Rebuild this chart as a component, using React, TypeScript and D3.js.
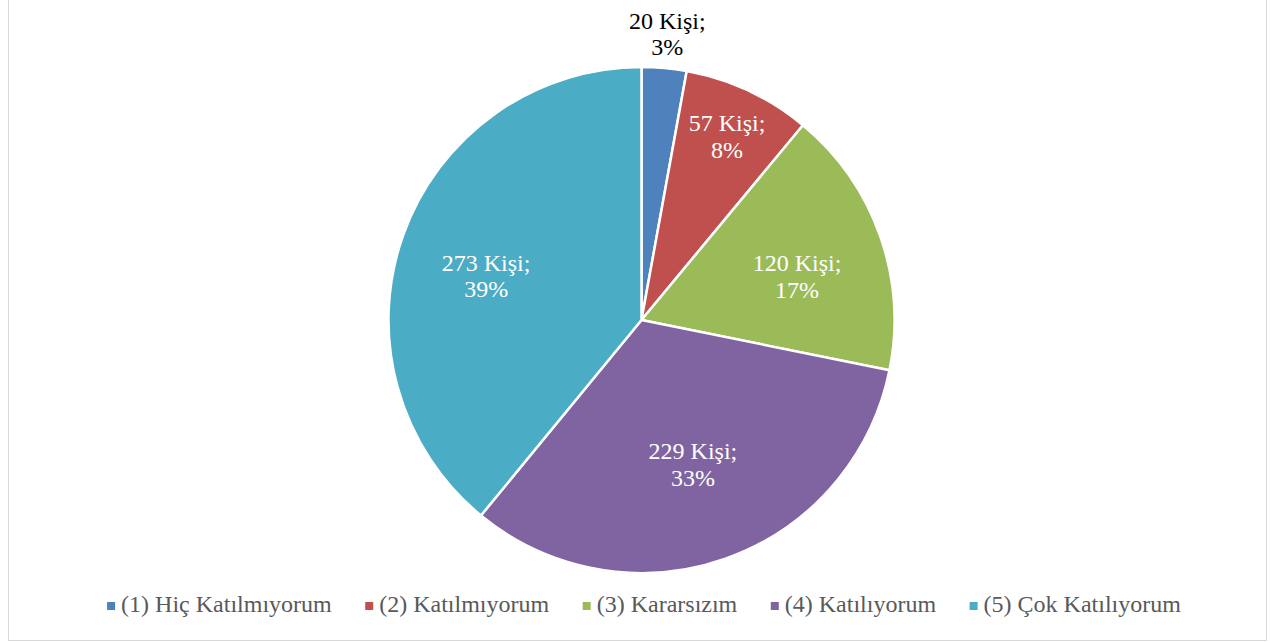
import * as d3 from "d3";
import { useEffect, useRef } from "react";

const categories = [
  "(1) Hiç Katılmıyorum",
  "(2) Katılmıyorum",
  "(3) Kararsızım",
  "(4) Katılıyorum",
  "(5) Çok Katılıyorum",
];
const counts = [20, 57, 120, 229, 273];
const colors = ["#4F81BD", "#C0504D", "#9BBB59", "#8064A2", "#4BACC6"];

const W = 1270;
const H = 642;

export default function App() {
  const ref = useRef<SVGSVGElement>(null);

  useEffect(() => {
    const svg = d3.select(ref.current);
    svg.selectAll("*").remove();

    const font = "'Liberation Serif', 'Times New Roman', serif";
    const fs = 24;
    const cx = 641.5;
    const cy = 320;
    const r = 253;

    svg
      .append("rect")
      .attr("x", 8.5)
      .attr("y", -10)
      .attr("width", 1258)
      .attr("height", 650.5)
      .attr("fill", "#fff")
      .attr("stroke", "#d9d9d9")
      .attr("stroke-width", 1);

    const data = categories.map((c, i) => ({ label: c, value: counts[i], color: colors[i] }));
    const total = d3.sum(counts);

    const pie = d3
      .pie<(typeof data)[number]>()
      .value((d) => d.value)
      .sort(null);
    const arcs = pie(data);

    const arc = d3.arc<d3.PieArcDatum<(typeof data)[number]>>().innerRadius(0).outerRadius(r);

    const g = svg.append("g").attr("transform", `translate(${cx},${cy})`);

    g.selectAll("path")
      .data(arcs)
      .join("path")
      .attr("d", arc)
      .attr("fill", (d) => d.data.color)
      .attr("stroke", "#fff")
      .attr("stroke-width", 2.5)
      .attr("stroke-linejoin", "round");

    // data labels (best-fit style: small slices pushed outward / outside)
    arcs.forEach((a) => {
      const pct = a.data.value / total;
      let mid = (a.startAngle + a.endAngle) / 2;
      // pull labels near the horizontal axis a little toward it
      const horiz = mid < Math.PI ? Math.PI / 2 : (3 * Math.PI) / 2;
      if (Math.abs(mid - horiz) < Math.PI / 6) mid += 0.2 * (horiz - mid);
      let lr = r * (0.59 + 0.05 * Math.abs(Math.sin(mid)));
      let fill = "#fff";
      if (pct < 0.05) {
        lr = r + 34;
        fill = "#000";
      } else if (pct < 0.1) {
        lr = r * 0.8;
      }
      const x = Math.sin(mid) * lr;
      const y = -Math.cos(mid) * lr;
      const t = g
        .append("text")
        .attr("text-anchor", "middle")
        .attr("font-family", font)
        .attr("font-size", fs)
        .attr("fill", fill);
      t.append("tspan")
        .attr("x", x)
        .attr("y", y - 5.5)
        .text(`${a.data.value} Kişi;`);
      t.append("tspan")
        .attr("x", x)
        .attr("y", y + 21)
        .text(`${Math.round(pct * 100)}%`);
    });

    // legend
    const lg = svg.append("g");
    const legendY = 612;
    const gap = 33.5;
    let xPos = 0;
    data.forEach((d) => {
      const item = lg.append("g").attr("transform", `translate(${xPos},0)`);
      item
        .append("rect")
        .attr("x", 0)
        .attr("y", legendY - 10)
        .attr("width", 8)
        .attr("height", 8)
        .attr("fill", d.color);
      const txt = item
        .append("text")
        .attr("x", 14)
        .attr("y", legendY)
        .attr("font-family", font)
        .attr("font-size", fs)
        .attr("fill", "#595959")
        .text(d.label);
      const w = (txt.node() as SVGTextElement).getComputedTextLength();
      xPos += 14 + w + gap;
    });
    const totalW = xPos - gap;
    lg.attr("transform", `translate(${644 - totalW / 2},0)`);
  }, []);

  return (
    <svg
      ref={ref}
      width={W}
      height={H}
      style={{ position: "absolute", left: 0, top: 0, display: "block" }}
    />
  );
}
